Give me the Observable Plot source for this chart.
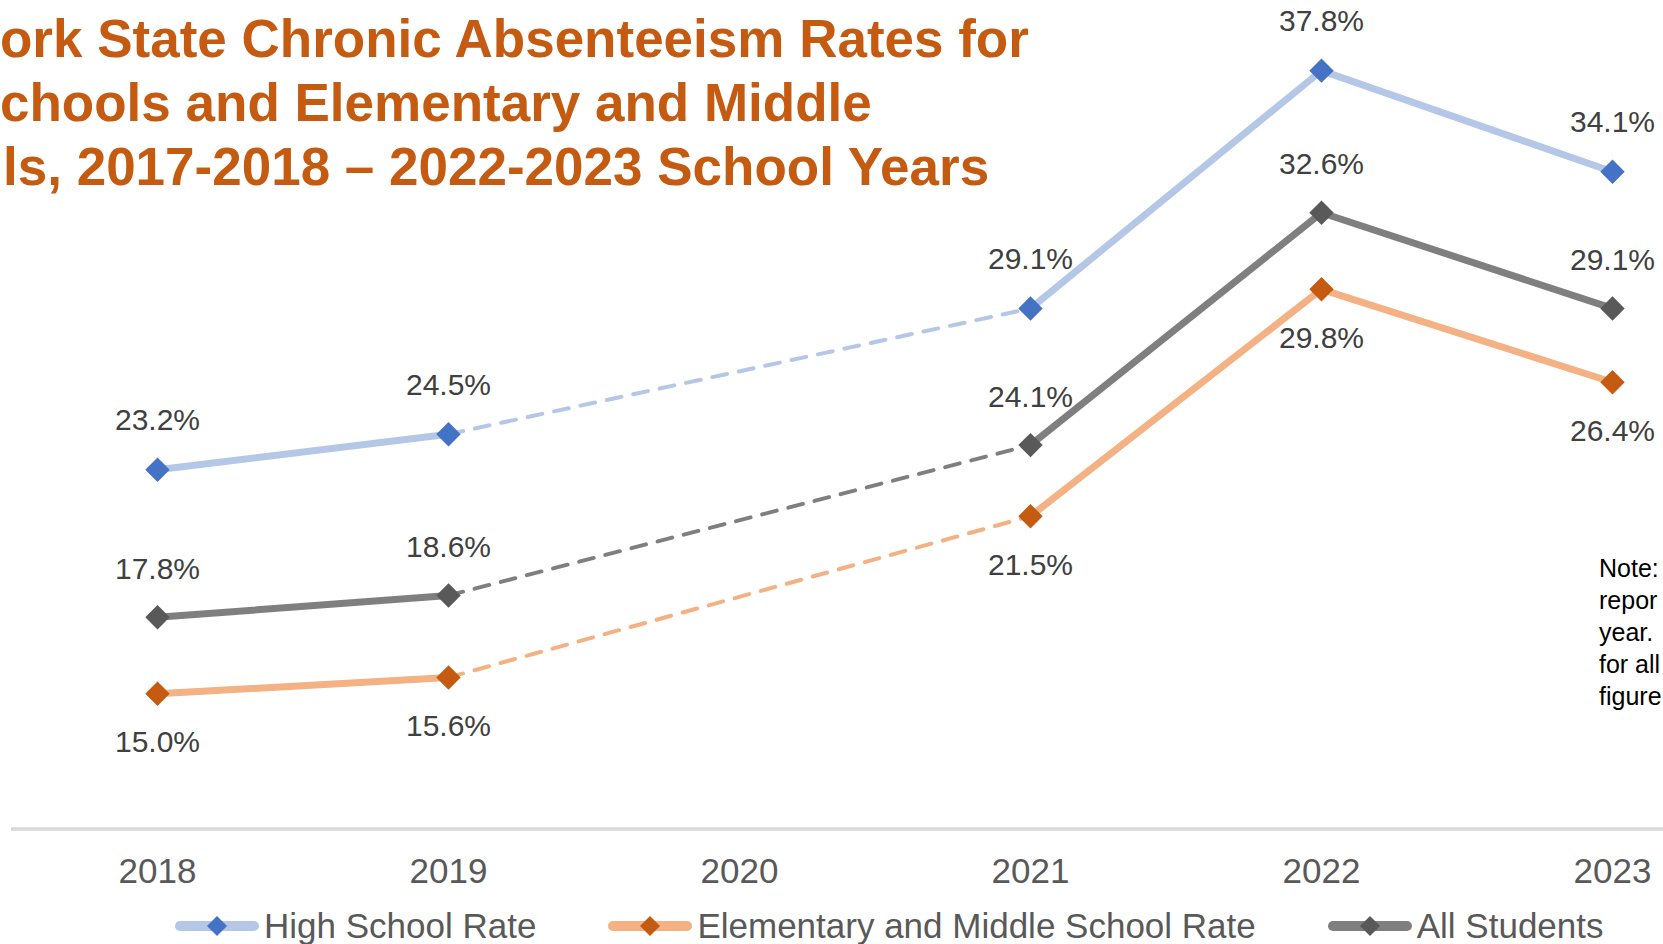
<!DOCTYPE html>
<html><head><meta charset="utf-8">
<script src="https://cdn.jsdelivr.net/npm/d3@7"></script>
<script src="https://cdn.jsdelivr.net/npm/@observablehq/plot@0.6"></script>
<style>
html,body{margin:0;padding:0;background:#fff;overflow:hidden;}
#wrap{position:relative;width:1663px;height:944px;overflow:hidden;font-family:"Liberation Sans",Arial,sans-serif;}
#chart{position:absolute;left:0;top:0;}
#title{position:absolute;left:0;top:7px;font-size:53px;line-height:64px;font-weight:bold;color:#C55A11;white-space:nowrap;}
#title div:nth-child(3){padding-left:3px;}
#note{position:absolute;left:1599px;top:552px;font-size:25px;line-height:32px;color:#000;white-space:nowrap;}
#legend{position:absolute;left:175px;top:906px;height:40px;display:flex;align-items:center;font-size:35px;line-height:40px;color:#595959;white-space:nowrap;}
.item{display:flex;align-items:center;margin-right:72px;}
.item svg{margin-right:5px;flex:none;}
</style></head><body>
<div id="wrap"><div id="chart"></div><div id="title"></div><div id="note"></div><div id="legend"></div></div>
<script>
const years = [2018, 2019, 2020, 2021, 2022, 2023];
const highSchool = [23.2, 24.5, null, 29.1, 37.8, 34.1];
const elemMiddle = [15.0, 15.6, null, 21.5, 29.8, 26.4];
const allStudents = [17.8, 18.6, null, 24.1, 32.6, 29.1];
const seriesNames = ["High School Rate", "Elementary and Middle School Rate", "All Students"];
const lineColors = ["#B4C7E7", "#F4B183", "#7F7F7F"];
const markerColors = ["#4472C4", "#C55A11", "#595959"];
// the reference image is cropped: only the visible part of the title and note is shown
const titleLines = [
  "ork State Chronic Absenteeism Rates for",
  "chools and Elementary and Middle",
  "ls, 2017-2018 \u2013 2022-2023 School Years"
];
const noteLines = ["Note:", "repor", "year.", "for all", "figure"];

const seriesValues = [highSchool, elemMiddle, allStudents];
const labelOffsets = [-49, 49, -48];
const font = "Liberation Sans, Arial, sans-serif";

const marks = [
  Plot.ruleY([10], {stroke: "#D9D9D9", strokeWidth: 3.5, dy: -1.5}),
  Plot.axisX({ticks: years, tickFormat: d => String(d), tickSize: 0, tickPadding: 28,
    fontSize: 35, fill: "#595959", label: null})
];

seriesNames.forEach((name, k) => {
  const rows = years.map((year, i) => ({year, value: seriesValues[k][i], series: name}));
  const valid = rows.filter(d => d.value != null);
  const gap = [];
  rows.forEach((d, i) => {
    if (d.value == null && i > 0 && i < rows.length - 1) gap.push(rows[i - 1], rows[i + 1]);
  });
  marks.push(
    Plot.line(rows, {x: "year", y: "value", stroke: lineColors[k], strokeWidth: 7, strokeLinejoin: "round"}),
    Plot.line(gap, {x: "year", y: "value", stroke: lineColors[k], strokeWidth: 4, strokeDasharray: "15,12"}),
    Plot.dot(valid, {x: "year", y: "value", symbol: "diamond2", r: 11, fill: markerColors[k], stroke: "none"}),
    Plot.text(valid, {x: "year", y: "value", text: d => d.value.toFixed(1) + "%", dy: labelOffsets[k],
      fontSize: 30, fill: "#404040"})
  );
});

const chart = Plot.plot({
  width: 1663, height: 944,
  marginLeft: 11, marginRight: 0, marginTop: 10, marginBottom: 114,
  style: {fontFamily: font, background: "white", overflow: "visible"},
  x: {type: "linear", domain: [2017.5, 2023.5], range: [11.5, 1757.5], label: null},
  y: {domain: [10, 40], axis: null},
  marks
});
document.getElementById("chart").appendChild(chart);

const title = document.getElementById("title");
titleLines.forEach(t => { const d = document.createElement("div"); d.textContent = t; title.appendChild(d); });
const note = document.getElementById("note");
noteLines.forEach(t => { const d = document.createElement("div"); d.textContent = t; note.appendChild(d); });

const legend = document.getElementById("legend");
seriesNames.forEach((name, k) => {
  const item = document.createElement("div");
  item.className = "item";
  item.innerHTML = `<svg width="84" height="24" viewBox="0 0 84 24">
    <line x1="5" y1="12" x2="79" y2="12" stroke="${lineColors[k]}" stroke-width="10" stroke-linecap="round"/>
    <path d="M42,2L52,12L42,22L32,12Z" fill="${markerColors[k]}"/></svg>`;
  const span = document.createElement("span");
  span.textContent = name;
  item.appendChild(span);
  legend.appendChild(item);
});
</script>
</body></html>
